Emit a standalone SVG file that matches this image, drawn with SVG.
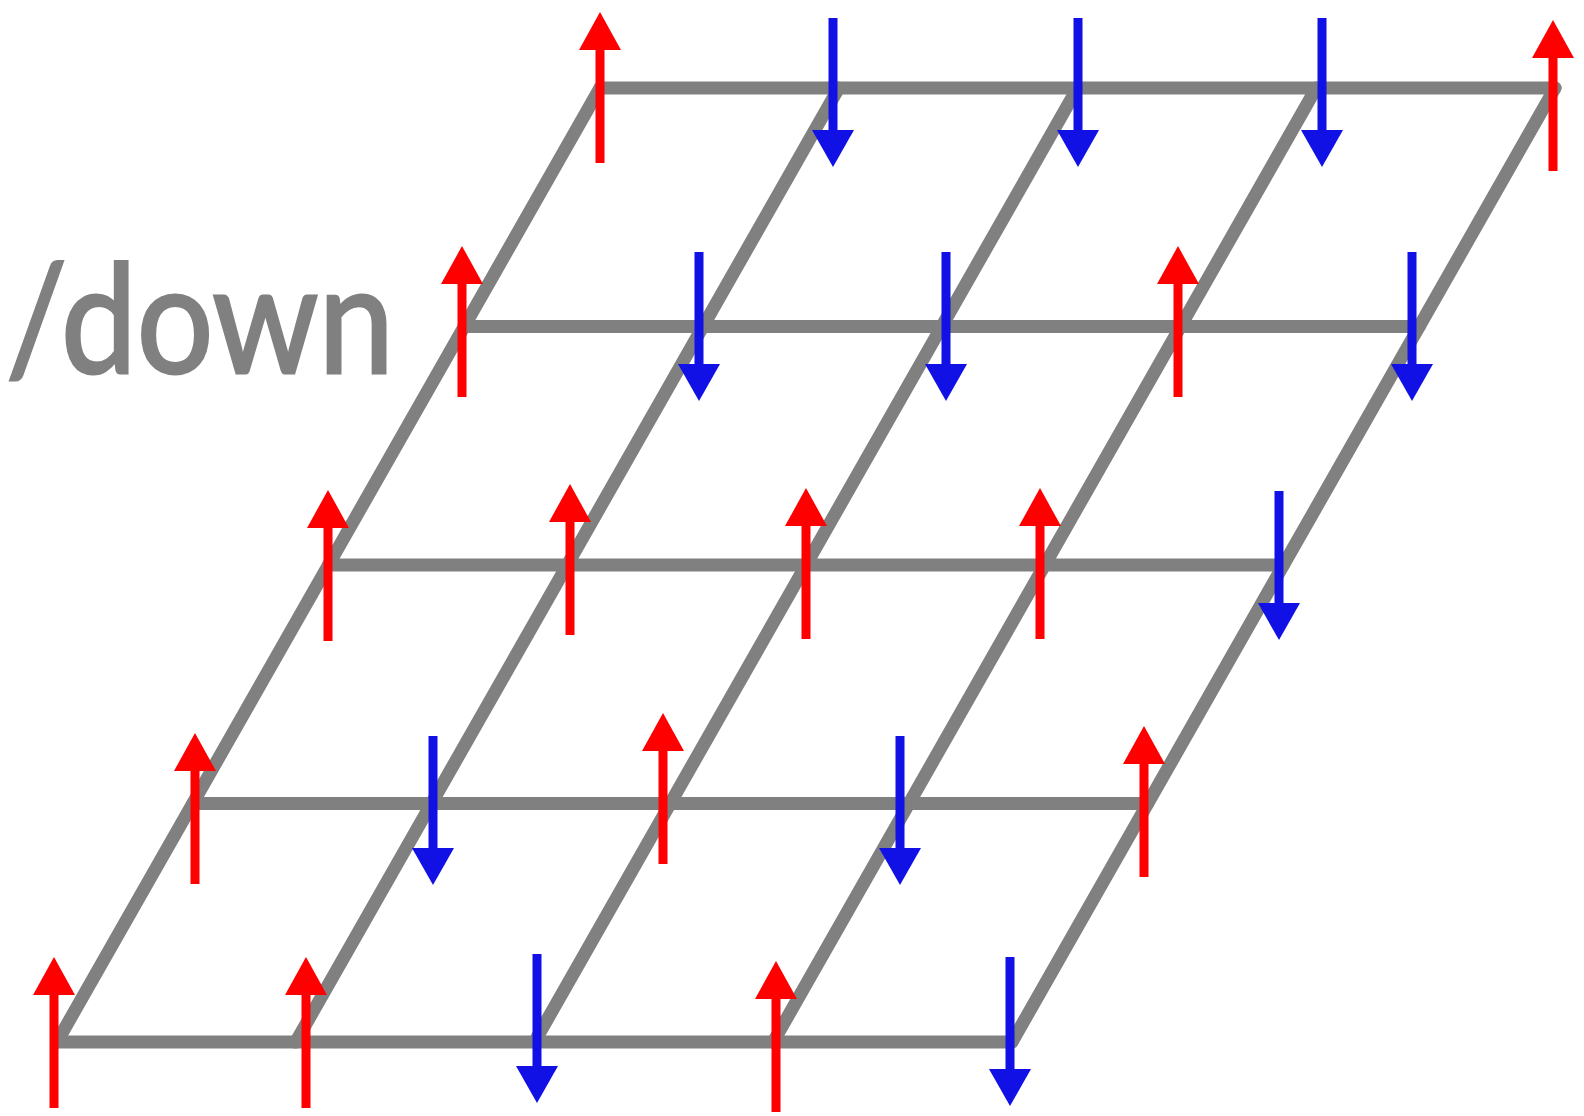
<svg xmlns="http://www.w3.org/2000/svg" xmlns:xlink="http://www.w3.org/1999/xlink" width="1584" height="1116" viewBox="0 0 1584 1116">
<style>
.grid{stroke:#808080;stroke-width:13;stroke-linecap:round;fill:none}
.lbl{font-family:Lato,"Liberation Sans",sans-serif;font-size:152px;fill:#808080;stroke:#808080;stroke-width:3}
</style>
<defs>
<g id="up"><line x1="0" y1="75" x2="0" y2="-42" stroke="#ff0000" stroke-width="9"/><polygon points="0,-76 -21,-38 21,-38" fill="#ff0000"/></g>
<g id="down"><line x1="0" y1="-70" x2="0" y2="46" stroke="#1111e6" stroke-width="9"/><polygon points="0,79 -21,42 21,42" fill="#1111e6"/></g>
</defs>
<rect width="1584" height="1116" fill="#ffffff"/>
<text id="label" class="lbl" x="6" y="373" textLength="388" lengthAdjust="spacingAndGlyphs">/down</text>
<g id="connectors" class="grid">
<line x1="600" y1="88" x2="1555" y2="88"/>
<line x1="464.25" y1="326.5" x2="1419.25" y2="326.5"/>
<line x1="328.5" y1="565" x2="1283.5" y2="565"/>
<line x1="192.75" y1="803.5" x2="1147.75" y2="803.5"/>
<line x1="57" y1="1042" x2="1012" y2="1042"/>
<line x1="57" y1="1042" x2="600" y2="88"/>
<line x1="295.75" y1="1042" x2="838.75" y2="88"/>
<line x1="534.5" y1="1042" x2="1077.5" y2="88"/>
<line x1="773.25" y1="1042" x2="1316.25" y2="88"/>
<line x1="1012" y1="1042" x2="1555" y2="88"/>
</g>
<g id="n00"><use xlink:href="#up" x="600" y="88"/></g>
<g id="n01"><use xlink:href="#down" x="833" y="88"/></g>
<g id="n02"><use xlink:href="#down" x="1078" y="88"/></g>
<g id="n03"><use xlink:href="#down" x="1322" y="88"/></g>
<g id="n04"><use xlink:href="#up" x="1553" y="96"/></g>
<g id="n10"><use xlink:href="#up" x="462" y="322"/></g>
<g id="n11"><use xlink:href="#down" x="699" y="322"/></g>
<g id="n12"><use xlink:href="#down" x="946" y="322"/></g>
<g id="n13"><use xlink:href="#up" x="1178" y="322"/></g>
<g id="n14"><use xlink:href="#down" x="1412" y="322"/></g>
<g id="n20"><use xlink:href="#up" x="328" y="566"/></g>
<g id="n21"><use xlink:href="#up" x="570" y="560"/></g>
<g id="n22"><use xlink:href="#up" x="806" y="564"/></g>
<g id="n23"><use xlink:href="#up" x="1040" y="564"/></g>
<g id="n24"><use xlink:href="#down" x="1279" y="561"/></g>
<g id="n30"><use xlink:href="#up" x="195" y="809"/></g>
<g id="n31"><use xlink:href="#down" x="433" y="806"/></g>
<g id="n32"><use xlink:href="#up" x="663" y="789"/></g>
<g id="n33"><use xlink:href="#down" x="900" y="806"/></g>
<g id="n34"><use xlink:href="#up" x="1144" y="802"/></g>
<g id="n40"><use xlink:href="#up" x="54" y="1033"/></g>
<g id="n41"><use xlink:href="#up" x="306" y="1033"/></g>
<g id="n42"><use xlink:href="#down" x="537" y="1024"/></g>
<g id="n43"><use xlink:href="#up" x="776" y="1037"/></g>
<g id="n44"><use xlink:href="#down" x="1010" y="1027"/></g>
</svg>
